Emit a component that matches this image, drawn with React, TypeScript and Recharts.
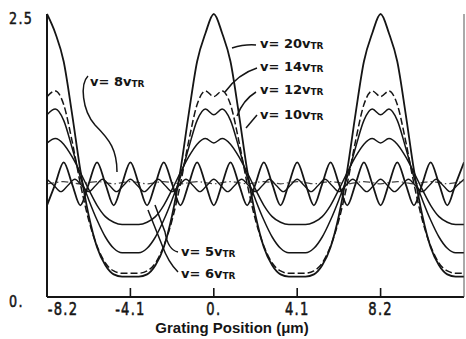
import React from 'react';
import { LineChart, Line, XAxis, YAxis } from 'recharts';

// positions along the grating (µm), sampled every 0.41 µm
const xA = [-8.2, -7.79, -7.38, -6.97, -6.56, -6.15, -5.74, -5.33, -4.92, -4.51, -4.1, -3.69, -3.28, -2.87, -2.46, -2.05, -1.64, -1.23, -0.82, -0.41, 0, 0.41, 0.82, 1.23, 1.64, 2.05, 2.46, 2.87, 3.28, 3.69, 4.1, 4.51, 4.92, 5.33, 5.74, 6.15, 6.56, 6.97, 7.38, 7.79, 8.2, 8.61, 9.02, 9.43, 9.84, 10.25, 10.66, 11.07, 11.48, 11.89, 12.3];

const v20 = [2.5, 2.33, 2.08, 1.62, 1.12, 0.72, 0.44, 0.28, 0.2, 0.18, 0.18, 0.18, 0.2, 0.28, 0.44, 0.72, 1.12, 1.62, 2.08, 2.33, 2.5, 2.33, 2.08, 1.62, 1.12, 0.72, 0.44, 0.28, 0.2, 0.18, 0.18, 0.18, 0.2, 0.28, 0.44, 0.72, 1.12, 1.62, 2.08, 2.33, 2.5, 2.33, 2.08, 1.62, 1.12, 0.72, 0.44, 0.28, 0.2, 0.18, 0.18];
const v14 = [1.77, 1.82, 1.7, 1.38, 1.0, 0.68, 0.45, 0.3, 0.23, 0.21, 0.21, 0.21, 0.23, 0.3, 0.45, 0.68, 1.0, 1.38, 1.7, 1.82, 1.77, 1.82, 1.7, 1.38, 1.0, 0.68, 0.45, 0.3, 0.23, 0.21, 0.21, 0.21, 0.23, 0.3, 0.45, 0.68, 1.0, 1.38, 1.7, 1.82, 1.77, 1.82, 1.7, 1.38, 1.0, 0.68, 0.45, 0.3, 0.23, 0.21, 0.21];
const v12 = [1.61, 1.66, 1.56, 1.32, 1.06, 0.86, 0.68, 0.53, 0.43, 0.39, 0.39, 0.39, 0.43, 0.53, 0.68, 0.86, 1.06, 1.32, 1.56, 1.66, 1.61, 1.66, 1.56, 1.32, 1.06, 0.86, 0.68, 0.53, 0.43, 0.39, 0.39, 0.39, 0.43, 0.53, 0.68, 0.86, 1.06, 1.32, 1.56, 1.66, 1.61, 1.66, 1.56, 1.32, 1.06, 0.86, 0.68, 0.53, 0.43, 0.39, 0.39];
const v10 = [1.36, 1.4, 1.35, 1.24, 1.1, 0.95, 0.81, 0.71, 0.66, 0.64, 0.64, 0.64, 0.66, 0.71, 0.81, 0.95, 1.1, 1.24, 1.35, 1.4, 1.36, 1.4, 1.35, 1.24, 1.1, 0.95, 0.81, 0.71, 0.66, 0.64, 0.64, 0.64, 0.66, 0.71, 0.81, 0.95, 1.1, 1.24, 1.35, 1.4, 1.36, 1.4, 1.35, 1.24, 1.1, 0.95, 0.81, 0.71, 0.66, 0.64, 0.64];
const v8 = [0.81, 1.0, 1.19, 1.0, 0.81, 1.0, 1.19, 1.0, 0.81, 1.0, 1.19, 1.0, 0.81, 1.0, 1.19, 1.0, 0.81, 1.0, 1.19, 1.0, 0.81, 1.0, 1.19, 1.0, 0.81, 1.0, 1.19, 1.0, 0.81, 1.0, 1.19, 1.0, 0.81, 1.0, 1.19, 1.0, 0.81, 1.0, 1.19, 1.0, 0.81, 1.0, 1.19, 1.0, 0.81, 1.0, 1.19, 1.0, 0.81, 1.0, 1.19];
const v5 = [1.0, 1.01, 1.02, 1.01, 1.0, 1.01, 1.02, 1.01, 1.0, 1.01, 1.02, 1.01, 1.0, 1.01, 1.02, 1.01, 1.0, 1.01, 1.02, 1.01, 1.0, 1.01, 1.02, 1.01, 1.0, 1.01, 1.02, 1.01, 1.0, 1.01, 1.02, 1.01, 1.0, 1.01, 1.02, 1.01, 1.0, 1.01, 1.02, 1.01, 1.0, 1.01, 1.02, 1.01, 1.0, 1.01, 1.02, 1.01, 1.0, 1.01, 1.02];

// finer positions for the six-fold ripple
const xB = [-8.2, -7.858, -7.517, -7.175, -6.833, -6.492, -6.15, -5.808, -5.467, -5.125, -4.783, -4.442, -4.1, -3.758, -3.417, -3.075, -2.733, -2.392, -2.05, -1.708, -1.367, -1.025, -0.683, -0.342, 0, 0.342, 0.683, 1.025, 1.367, 1.708, 2.05, 2.392, 2.733, 3.075, 3.417, 3.758, 4.1, 4.442, 4.783, 5.125, 5.467, 5.808, 6.15, 6.492, 6.833, 7.175, 7.517, 7.858, 8.2, 8.542, 8.883, 9.225, 9.567, 9.908, 10.25, 10.592, 10.933, 11.275, 11.617, 11.958, 12.3];
const v6 = [1.04, 0.985, 0.93, 0.985, 1.04, 0.985, 0.93, 0.985, 1.04, 0.985, 0.93, 0.985, 1.04, 0.985, 0.93, 0.985, 1.04, 0.985, 0.93, 0.985, 1.04, 0.985, 0.93, 0.985, 1.04, 0.985, 0.93, 0.985, 1.04, 0.985, 0.93, 0.985, 1.04, 0.985, 0.93, 0.985, 1.04, 0.985, 0.93, 0.985, 1.04, 0.985, 0.93, 0.985, 1.04, 0.985, 0.93, 0.985, 1.04, 0.985, 0.93, 0.985, 1.04, 0.985, 0.93, 0.985, 1.04, 0.985, 0.93, 0.985, 1.04];

const xTicks = [-8.2, -4.1, 0, 4.1, 8.2];
const topTicks = [-4.1, 0, 4.1, 8.2];
const yTicks = [0, 2.5];
const xTitle = 'Grating Position (\u03bcm)';

const mk = (xs: number[], ys: number[]) => xs.map((x, i) => ({ x, y: ys[i] }));
const d20 = mk(xA, v20);
const d14 = mk(xA, v14);
const d12 = mk(xA, v12);
const d10 = mk(xA, v10);
const d8 = mk(xA, v8);
const d5 = mk(xA, v5);
const d6 = mk(xB, v6);

const INK = '#151515';
const tickFont = "'DejaVu Sans', sans-serif";

const fmt = (v: number) => (v === 0 ? '0.' : String(v));

const BottomTick = (props: any) => {
  const { x, y, payload } = props;
  const v = payload.value;
  const dx = v === -8.2 ? 16 : 0;
  return (
    <g>
      {v !== -8.2 && <line x1={x} x2={x} y1={y} y2={y - 9} stroke={INK} strokeWidth={1.6} />}
      <text
        transform={`translate(${x + dx},${y + 18}) scale(0.82,1.15)`}
        textAnchor="middle"
        fontFamily={tickFont}
        fontSize={16}
        fill={INK}
        stroke={INK}
        strokeWidth={0.5}
        letterSpacing={1.5}
      >
        {fmt(v)}
      </text>
    </g>
  );
};

const TopTick = (props: any) => {
  const { x, y } = props;
  return <line x1={x} x2={x} y1={y} y2={y + 9} stroke={INK} strokeWidth={1.6} />;
};

const LeftTick = (props: any) => {
  const { y, payload } = props;
  return (
    <text
      transform={`translate(9,${y + 9.5}) scale(0.85,1.1)`}
      textAnchor="start"
      fontFamily={tickFont}
      fontSize={15}
      fill={INK}
      stroke={INK}
      strokeWidth={0.5}
      letterSpacing={1.5}
    >
      {fmt(payload.value)}
    </text>
  );
};

const labFont = "'DejaVu Sans', sans-serif";
const VLabel = ({ x, y, n }: { x: number; y: number; n: string }) => (
  <text x={x} y={y} fontFamily={labFont} fontSize={13} fontWeight="bold" fill={INK}>
    {'v= ' + n + 'v'}
    <tspan fontSize={9} dy={1}>TR</tspan>
  </text>
);

export default function App() {
  return (
    <div style={{ position: 'absolute', left: 0, top: 0, width: 466, height: 339, background: '#fff' }}>
      <LineChart width={466} height={339} margin={{ top: 14, right: 0, bottom: 0, left: 0 }}>
        <XAxis
          dataKey="x"
          type="number"
          domain={[-8.2, 12.3]}
          ticks={xTicks}
          interval={0}
          allowDataOverflow
          height={42}
          tickSize={0}
          tickMargin={0}
          tickLine={false}
          axisLine={{ stroke: INK, strokeWidth: 2 }}
          tick={<BottomTick />}
        />
        <XAxis
          xAxisId="top"
          orientation="top"
          dataKey="x"
          type="number"
          domain={[-8.2, 12.3]}
          ticks={topTicks}
          interval={0}
          allowDataOverflow
          height={0}
          tickSize={0}
          tickMargin={0}
          tickLine={false}
          axisLine={{ stroke: INK, strokeWidth: 2 }}
          tick={<TopTick />}
        />
        <YAxis
          type="number"
          domain={[0, 2.5]}
          ticks={yTicks}
          interval={0}
          width={47}
          tickSize={0}
          tickMargin={0}
          tickLine={false}
          axisLine={{ stroke: INK, strokeWidth: 2 }}
          tick={<LeftTick />}
        />
        <YAxis
          yAxisId="right"
          orientation="right"
          type="number"
          domain={[0, 2.5]}
          width={2}
          tick={false}
          tickLine={false}
          axisLine={{ stroke: '#555', strokeWidth: 1 }}
        />
        <Line data={d5} dataKey="y" type="monotone" stroke="#444" strokeWidth={1.2} strokeDasharray="7 3 1.5 3" dot={false} isAnimationActive={false} />
        <Line data={d6} dataKey="y" type="monotone" stroke={INK} strokeWidth={1.3} dot={false} isAnimationActive={false} />
        <Line data={d8} dataKey="y" type="monotone" stroke={INK} strokeWidth={1.8} dot={false} isAnimationActive={false} />
        <Line data={d10} dataKey="y" type="monotone" stroke={INK} strokeWidth={1.5} dot={false} isAnimationActive={false} />
        <Line data={d12} dataKey="y" type="monotone" stroke={INK} strokeWidth={1.5} dot={false} isAnimationActive={false} />
        <Line data={d14} dataKey="y" type="monotone" stroke={INK} strokeWidth={1.5} strokeDasharray="7 3" dot={false} isAnimationActive={false} />
        <Line data={d20} dataKey="y" type="monotone" stroke={INK} strokeWidth={1.8} dot={false} isAnimationActive={false} />
      </LineChart>
      <svg width={466} height={339} style={{ position: 'absolute', left: 0, top: 0, pointerEvents: 'none' }}>
        <g fill="none" stroke={INK} strokeWidth={1.5}>
          <path d="M256,45 Q245,44 232,48" />
          <path d="M257,68 Q238,74 225,92" />
          <path d="M256,92 Q243,100 237,116" />
          <path d="M257,115 L246,128" />
          <path d="M88,76 C80,84 82,110 95,125 C110,140 117,150 117,172" />
          <path d="M178,252 Q168,250 165,232 L155,205" />
          <path d="M178,272 Q168,262 162,245 L148,210" />
        </g>
        <VLabel x={260} y={48} n="20" />
        <VLabel x={260} y={71} n="14" />
        <VLabel x={260} y={94} n="12" />
        <VLabel x={260} y={119} n="10" />
        <VLabel x={90} y={86} n="8" />
        <VLabel x={181} y={256} n="5" />
        <VLabel x={181} y={278} n="6" />
        <text x={232} y={333} textAnchor="middle" fontFamily="'Liberation Sans', Arial, sans-serif" fontSize={15} fontWeight="bold" fill={INK}>
          {xTitle}
        </text>
      </svg>
    </div>
  );
}
